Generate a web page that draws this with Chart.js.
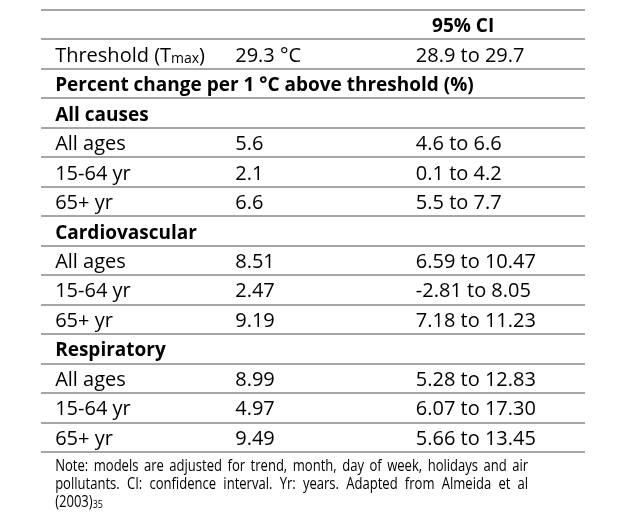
<!DOCTYPE html>
<html>
<head>
<meta charset="utf-8">
<script src="https://cdn.jsdelivr.net/npm/chart.js@4.4.0/dist/chart.umd.min.js"></script>
<style>
  html, body { margin: 0; padding: 0; background: #fff; }
  #wrap { width: 643px; height: 514px; }
</style>
</head>
<body>
<div id="wrap"><canvas id="tableChart" width="643" height="514"></canvas></div>
<script>
// Table values (Almeida et al 2003)
const causeGroups = ['All causes', 'Cardiovascular', 'Respiratory'];
const ageGroups = ['All ages', '15-64 yr', '65+ yr'];
const estimates = [[5.6, 2.1, 6.6], [8.51, 2.47, 9.19], [8.99, 4.97, 9.49]];
const ciLower = [[4.6, 0.1, 5.5], [6.59, -2.81, 7.18], [5.28, 6.07, 5.66]];
const ciUpper = [[6.6, 4.2, 7.7], [10.47, 8.05, 11.23], [12.83, 17.30, 13.45]];
const decimals = [1, 2, 2];
const threshold = 29.3;
const thresholdCI = [28.9, 29.7];
const ciHeader = '95% CI';
const sectionTitle = 'Percent change per 1 °C above threshold (%)';
const noteLines = [
    'Note: models are adjusted for trend, month, day of week, holidays and air',
    'pollutants. CI: confidence interval. Yr: years. Adapted from Almeida et al'
];
const noteRef = ['(2003)', '35'];

// Layout
const FONT = '"Open Sans"';
const FONT_SIZE = 20;
const BOLD_SIZE = 19;
const NOTE_SIZE = 16;
const NOTE_WIDTH = 473;
const colX = { label: 2.6, value: 35.7, ci: 68.9, ciHead: 77.6 };

// Build rows
const rows = [];
rows.push({ ciHead: ciHeader });
rows.push({
    label: [{ t: 'Threshold (T' }, { t: 'max', sub: true }, { t: ')' }],
    value: threshold.toFixed(1) + ' °C',
    ci: thresholdCI[0].toFixed(1) + ' to ' + thresholdCI[1].toFixed(1)
});
rows.push({ label: [{ t: sectionTitle }], bold: true });
causeGroups.forEach((g, gi) => {
    rows.push({ label: [{ t: g }], bold: true });
    ageGroups.forEach((a, ai) => {
        const d = decimals[gi];
        rows.push({
            label: [{ t: a }],
            value: estimates[gi][ai].toFixed(d),
            ci: ciLower[gi][ai].toFixed(d) + ' to ' + ciUpper[gi][ai].toFixed(d)
        });
    });
});

const rowKeys = rows.map((r, i) => 'row' + i);

const labelCells = [], valueCells = [], ciCells = [], headCells = [];
rows.forEach((r, i) => {
    if (r.label) labelCells.push({ x: colX.label, y: rowKeys[i], parts: r.label, bold: r.bold });
    if (r.value) valueCells.push({ x: colX.value, y: rowKeys[i], parts: [{ t: r.value }] });
    if (r.ci) ciCells.push({ x: colX.ci, y: rowKeys[i], parts: [{ t: r.ci }] });
    if (r.ciHead) headCells.push({ x: colX.ciHead, y: rowKeys[i], parts: [{ t: r.ciHead }], bold: true });
});

function font(size, bold) {
    return (bold ? 'bold ' : '') + size + 'px ' + FONT;
}

function drawParts(ctx, parts, x, y, size, bold, align, sx) {
    sx = sx || 1;
    const widths = parts.map(p => {
        ctx.font = font(p.sub ? Math.round(size * 0.7) : size, bold);
        return ctx.measureText(p.t).width * sx;
    });
    const total = widths.reduce((a, b) => a + b, 0);
    let cx = align === 'center' ? x - total / 2 : x;
    parts.forEach((p, i) => {
        ctx.font = font(p.sub ? Math.round(size * 0.7) : size, bold);
        ctx.save();
        ctx.translate(cx, p.sub ? y + 1 : y);
        ctx.scale(sx, 1);
        ctx.fillText(p.t, 0, 0);
        ctx.restore();
        cx += widths[i];
    });
}

const cellText = {
    id: 'cellText',
    afterDatasetsDraw(chart) {
        const ctx = chart.ctx;
        ctx.save();
        ctx.fillStyle = '#000';
        ctx.textBaseline = 'alphabetic';
        chart.data.datasets.forEach((ds, di) => {
            const meta = chart.getDatasetMeta(di);
            meta.data.forEach((pt, i) => {
                const cell = ds.data[i];
                drawParts(ctx, cell.parts, pt.x, pt.y + 7.5, cell.bold ? BOLD_SIZE : FONT_SIZE, cell.bold, ds.align);
            });
        });

        // footnote under the table, justified and slightly condensed
        const left = chart.scales.x.getPixelForValue(colX.label);
        const bottom = chart.chartArea.bottom;
        ctx.font = font(NOTE_SIZE, false);
        const wordGap = 5.5;
        const lineWords = noteLines.map(l => l.split(' '));
        const sx = Math.min(1, ...lineWords.map(ws => {
            const sum = ws.reduce((a, w) => a + ctx.measureText(w).width, 0);
            return (NOTE_WIDTH - wordGap * (ws.length - 1)) / sum;
        }));
        lineWords.forEach((ws, li) => {
            const wl = ws.map(w => ctx.measureText(w).width * sx);
            const gap = (NOTE_WIDTH - wl.reduce((a, b) => a + b, 0)) / (ws.length - 1);
            let cx = left;
            const y = bottom + 19 + li * 18;
            ws.forEach((w, i) => {
                ctx.save();
                ctx.translate(cx, y);
                ctx.scale(sx, 1);
                ctx.fillText(w, 0, 0);
                ctx.restore();
                cx += wl[i] + gap;
            });
        });
        drawParts(ctx, [{ t: noteRef[0] }, { t: noteRef[1], sub: true }], left, bottom + 55, NOTE_SIZE, false, 'left', sx);
        ctx.restore();
    }
};

new Chart(document.getElementById('tableChart'), {
    type: 'scatter',
    data: {
        labels: rowKeys,
        datasets: [
            { data: labelCells, align: 'left' },
            { data: valueCells, align: 'left' },
            { data: ciCells, align: 'left' },
            { data: headCells, align: 'center' }
        ]
    },
    options: {
        responsive: false,
        animation: false,
        events: [],
        elements: { point: { radius: 0 } },
        layout: { autoPadding: false, padding: { left: 41, right: 58, top: 10, bottom: 62 } },
        plugins: { legend: { display: false }, tooltip: { enabled: false } },
        scales: {
            x: { type: 'linear', min: 0, max: 100, display: false },
            y: {
                type: 'category',
                labels: rowKeys,
                offset: true,
                ticks: { display: false },
                border: { display: false },
                grid: { offset: true, drawTicks: false, color: '#a6a6a6', lineWidth: 2 }
            }
        }
    },
    plugins: [cellText]
});
</script>
</body>
</html>
